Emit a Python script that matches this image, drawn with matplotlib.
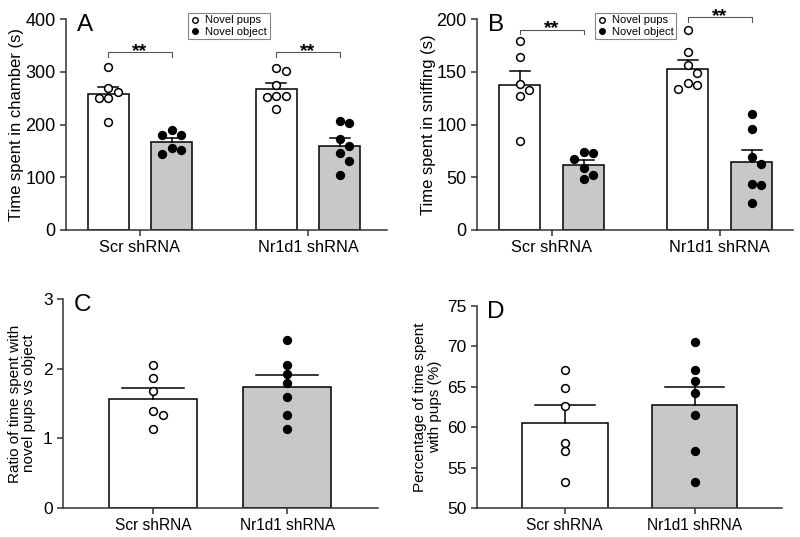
import numpy as np
import matplotlib
matplotlib.use("Agg")
import matplotlib.pyplot as plt

plt.rcParams["font.family"] = ["Liberation Sans", "DejaVu Sans"]

groups = ["Scr shRNA", "Nr1d1 shRNA"]

# Panel A: time spent in chamber (s)
a_pups = [[309, 269, 261, 251, 251, 205], [308, 301, 274, 254, 253, 254, 229]]
a_obj = [[180, 180, 190, 155, 145, 151], [206, 202, 172, 159, 146, 131, 105]]
a_pups_mean = [257, 267]
a_pups_sem = [14, 12]
a_obj_mean = [166, 160]
a_obj_sem = [8, 14]

# Panel B: time spent in sniffing (s)
b_pups = [[179, 164, 138, 133, 127, 84], [190, 169, 156, 149, 139, 134, 137]]
b_obj = [[73, 74, 67, 59, 48, 52], [110, 96, 69, 63, 44, 43, 26]]
b_pups_mean = [137, 153]
b_pups_sem = [14, 8]
b_obj_mean = [62, 64]
b_obj_sem = [4.5, 12]

# Panel C: ratio pups vs object
c_vals = [[2.05, 1.86, 1.68, 1.39, 1.34, 1.13], [2.41, 2.05, 1.92, 1.80, 1.60, 1.33, 1.13]]
c_mean = [1.57, 1.74]
c_sem = [0.15, 0.17]

# Panel D: percentage of time with pups
d_vals = [[67.1, 64.9, 62.6, 58.1, 57.1, 53.2], [70.6, 67.1, 65.7, 64.2, 61.5, 57.0, 53.2]]
d_mean = [60.5, 62.7]
d_sem = [2.2, 2.3]

GRAY = "#c8c8c8"
SPINE = "#333333"


def style_ax(ax):
    for s in ["top", "right"]:
        ax.spines[s].set_visible(False)
    for s in ["left", "bottom"]:
        ax.spines[s].set_color(SPINE)
        ax.spines[s].set_linewidth(1.1)
    ax.tick_params(direction="out", length=4, width=1.1, color=SPINE)


def swarm(ax, xc, ys, d_px=9.5):
    # greedy beeswarm in pixel space
    fig = ax.figure
    fig.canvas.draw()
    bbox = ax.get_window_extent()
    x0, x1 = ax.get_xlim()
    px_per_x = bbox.width / (x1 - x0)
    ypx = [ax.transData.transform((xc, y))[1] for y in ys]
    order = np.argsort(ypx)[::-1]
    placed = []
    xs = [0.0] * len(ys)
    cands = [0, 1, -1, 2, -2, 3, -3]
    for i in order:
        for c in cands:
            ox = c * d_px
            if all((ox - px) ** 2 + (ypx[i] - py) ** 2 >= (d_px * 0.85) ** 2 for px, py in placed):
                placed.append((ox, ypx[i]))
                xs[i] = xc + ox / px_per_x
                break
    return xs


def bar_err(ax, x, mean, sem, w, color, cap):
    ax.bar(x, mean, w, color=color, edgecolor="black", linewidth=1.1, zorder=2)
    ax.plot([x, x], [mean, mean + sem], color="black", lw=1.1, zorder=3)
    ax.plot([x - cap, x + cap], [mean + sem, mean + sem], color="black", lw=1.1, zorder=3)


def points(ax, xc, ys, filled):
    xs = swarm(ax, xc, ys)
    ax.plot(xs, ys, "o", ms=5.6, mec="black", mew=1.1,
            mfc="black" if filled else "white", ls="none", zorder=4, clip_on=False)


def bracket(ax, x1, x2, y, tick, below):
    ax.plot([x1, x1, x2, x2], [y - tick, y, y, y - tick], color="#555555", lw=0.8, clip_on=False)
    ax.text((x1 + x2) / 2, y - below, "**", ha="center", va="baseline",
            fontsize=14, fontweight="bold", clip_on=False)


fig = plt.figure(figsize=(8, 5.37), dpi=100)
axA = fig.add_axes([0.0825, 0.5717, 0.4013, 0.3929])
axB = fig.add_axes([0.596, 0.5717, 0.395, 0.3929])
axC = fig.add_axes([0.079, 0.054, 0.394, 0.3892])
axD = fig.add_axes([0.596, 0.054, 0.381, 0.3762])

off = 0.19
bw = 0.244
pos = np.arange(2)

# ---- A and B
for ax, pups, obj, pm, ps, om, osem, ylim, yt, ylabel, letter, xl in [
    (axA, a_pups, a_obj, a_pups_mean, a_pups_sem, a_obj_mean, a_obj_sem, 400, 100,
     "Time spent in chamber (s)", "A", (-0.44, 1.47)),
    (axB, b_pups, b_obj, b_pups_mean, b_pups_sem, b_obj_mean, b_obj_sem, 200, 50,
     "Time spent in sniffing (s)", "B", (-0.446, 1.435)),
]:
    style_ax(ax)
    ax.set_xlim(*xl)
    ax.set_ylim(0, ylim)
    ax.set_yticks(np.arange(0, ylim + 1, yt))
    ax.set_xticks(pos)
    ax.set_xticklabels(groups, fontsize=11.8)
    ax.tick_params(axis="y", labelsize=13)
    ax.set_ylabel(ylabel, fontsize=12)
    for i in range(2):
        bar_err(ax, pos[i] - off, pm[i], ps[i], bw, "white", 0.06)
        bar_err(ax, pos[i] + off, om[i], osem[i], bw, GRAY, 0.06)
        points(ax, pos[i] - off, pups[i], False)
        points(ax, pos[i] + off, obj[i], True)
    ax.text(0.035, 1.025, letter, transform=ax.transAxes, fontsize=17.5, va="top", ha="left")

axA.yaxis.set_label_coords(-0.13, 0.5)
axB.yaxis.set_label_coords(-0.13, 0.5)

bracket(axA, pos[0] - off, pos[0] + off, 337, 9, 7.6)
bracket(axA, pos[1] - off, pos[1] + off, 337, 9, 7.6)
bracket(axB, pos[0] - off, pos[0] + off, 190, 4.5, 3.8)
bracket(axB, pos[1] - off, pos[1] + off, 202, 4.5, 3.8)

for ax, bx in [(axA, 0.38), (axB, 0.373)]:
    h1, = ax.plot([], [], "o", ms=4, mfc="white", mec="black", mew=1, ls="none")
    h2, = ax.plot([], [], "o", ms=4, mfc="black", mec="black", mew=1, ls="none")
    leg = ax.legend([h1, h2], ["Novel pups", "Novel object"], loc="upper left",
                    bbox_to_anchor=(bx, 1.03), fontsize=8, frameon=True, fancybox=False,
                    handlelength=0.8, handletextpad=0.5, borderpad=0.25, labelspacing=0.1,
                    borderaxespad=0)
    leg.get_frame().set_edgecolor("#666666")
    leg.get_frame().set_linewidth(0.8)

# ---- C and D
for ax, vals, mean, sem, ylim, yticks, ylabel, letter, xl in [
    (axC, c_vals, c_mean, c_sem, (0, 3), [0, 1, 2, 3],
     "Ratio of time spent with\nnovel pups vs object", "C", (-0.67, 1.68)),
    (axD, d_vals, d_mean, d_sem, (50, 75), [50, 55, 60, 65, 70, 75],
     "Percentage of time spent\nwith pups (%)", "D", (-0.677, 1.67)),
]:
    style_ax(ax)
    ax.set_xlim(*xl)
    ax.set_ylim(*ylim)
    ax.set_yticks(yticks)
    ax.set_xticks(pos)
    ax.set_xticklabels(groups, fontsize=11.2)
    ax.tick_params(axis="y", labelsize=12.5)
    ax.set_ylabel(ylabel, fontsize=11, linespacing=1.05)
    for i, color in enumerate(["white", GRAY]):
        bar_err(ax, pos[i], mean[i], sem[i], 0.66, color, 0.23)
        points(ax, pos[i], vals[i], i == 1)
    ax.text(0.035, 1.025, letter, transform=ax.transAxes, fontsize=17.5, va="top", ha="left")

axC.yaxis.set_label_coords(-0.085, 0.5)
axD.yaxis.set_label_coords(-0.115, 0.5)

fig.savefig("out.png", dpi=100)
